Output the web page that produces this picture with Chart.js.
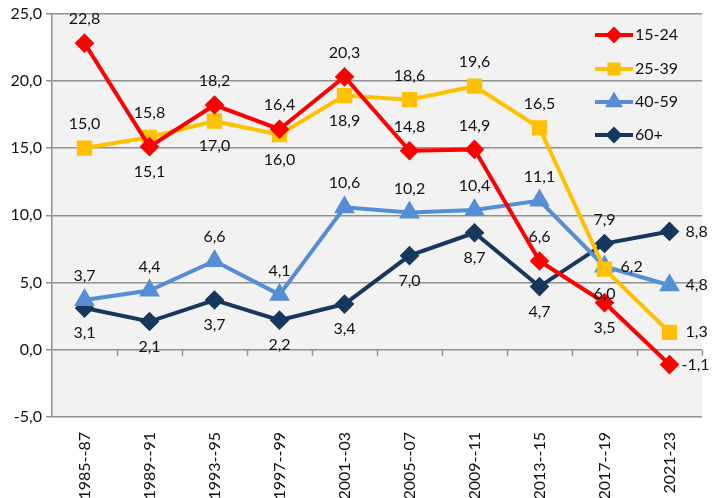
<!DOCTYPE html>
<html>
<head>
<meta charset="utf-8">
<script src="https://cdn.jsdelivr.net/npm/chart.js@4"></script>
<style>
  html, body { margin: 0; padding: 0; background: #fff; }
  #wrap { width: 715px; height: 498px; }
</style>
</head>
<body>
<div id="wrap"><canvas id="lineChart"></canvas></div>
<script>
const categories = ['1985--87', '1989--91', '1993--95', '1997--99', '2001--03', '2005--07', '2009--11', '2013--15', '2017--19', '2021-23'];
const seriesNames = ['15-24', '25-39', '40-59', '60+'];

const age15to24 = [22.8, 15.1, 18.2, 16.4, 20.3, 14.8, 14.9, 6.6, 3.5, -1.1];
const age25to39 = [15.0, 15.8, 17.0, 16.0, 18.9, 18.6, 19.6, 16.5, 6.0, 1.3];
const age40to59 = [3.7, 4.4, 6.6, 4.1, 10.6, 10.2, 10.4, 11.1, 6.2, 4.8];
const age60plus = [3.1, 2.1, 3.7, 2.2, 3.4, 7.0, 8.7, 4.7, 7.9, 8.8];

const yTicks = [-5, 0, 5, 10, 15, 20, 25];

// where each value label sits: a = above, b = below, r = right
const pos15to24 = ['a', 'b', 'a', 'a', 'a', 'a', 'a', 'a', 'b', 'r'];
const pos25to39 = ['a', 'a', 'b', 'b', 'b', 'a', 'a', 'a', 'b', 'r'];
const pos40to59 = ['a', 'a', 'a', 'a', 'a', 'a', 'a', 'a', 'r', 'r'];
const pos60plus = ['b', 'b', 'b', 'b', 'b', 'b', 'b', 'b', 'a', 'r'];

const fontFamily = 'Lato, "Open Sans", sans-serif';
const fmt = v => v.toFixed(1).replace('.', ',');

const plotBackground = {
  id: 'plotBackground',
  beforeDraw(chart) {
    const { ctx, chartArea: a } = chart;
    ctx.save();
    ctx.fillStyle = '#f2f2f2';
    ctx.fillRect(a.left, a.top, a.right - a.left, a.bottom - a.top);
    ctx.restore();
  }
};

const zeroAxisTicks = {
  id: 'zeroAxisTicks',
  beforeDatasetsDraw(chart) {
    const { ctx, scales: { x, y } } = chart;
    const y0 = y.getPixelForValue(0);
    ctx.save();
    ctx.strokeStyle = '#909090';
    ctx.lineWidth = 1.5;
    ctx.beginPath();
    for (let i = 1; i <= categories.length; i++) {
      const px = Math.round((x.getPixelForValue(i) + x.getPixelForValue(i - 1)) / 2) + 0.5;
      ctx.moveTo(px, y0);
      ctx.lineTo(px, y0 + 6);
    }
    ctx.stroke();
    ctx.restore();
  }
};

const valueLabels = {
  id: 'valueLabels',
  afterDatasetsDraw(chart) {
    const { ctx } = chart;
    const positions = [pos15to24, pos25to39, pos40to59, pos60plus];
    ctx.save();
    ctx.font = '16px ' + fontFamily;
    ctx.fillStyle = '#111';
    ctx.textBaseline = 'middle';
    chart.data.datasets.forEach((ds, di) => {
      const meta = chart.getDatasetMeta(di);
      meta.data.forEach((pt, i) => {
        const p = positions[di][i];
        const text = fmt(ds.data[i]);
        if (p === 'r') {
          ctx.textAlign = 'left';
          ctx.fillText(text, pt.x + (ds.data[i] < 0 ? 12 : 16), pt.y);
        } else {
          ctx.textAlign = 'center';
          ctx.fillText(text, pt.x, pt.y + (p === 'a' ? -24 : 25));
        }
      });
    });
    ctx.restore();
  }
};

const insideLegend = {
  id: 'insideLegend',
  afterDraw(chart) {
    const { ctx } = chart;
    const x0 = 595, x1 = 633, rowY = [35, 69, 102, 135];
    ctx.save();
    chart.data.datasets.forEach((ds, i) => {
      const yy = rowY[i];
      ctx.strokeStyle = ds.borderColor;
      ctx.lineWidth = 4;
      ctx.beginPath();
      ctx.moveTo(x0, yy);
      ctx.lineTo(x1, yy);
      ctx.stroke();
      ctx.fillStyle = ds.pointBackgroundColor;
      ctx.strokeStyle = ds.pointBackgroundColor;
      Chart.helpers.drawPoint(ctx, {
        pointStyle: ds.pointStyle,
        radius: ds.pointRadius * 0.8,
        borderWidth: 1
      }, (x0 + x1) / 2, yy);
      ctx.font = '16px ' + fontFamily;
      ctx.fillStyle = '#111';
      ctx.textAlign = 'left';
      ctx.textBaseline = 'middle';
      ctx.fillText(seriesNames[i], x1 + 2, yy);
    });
    ctx.restore();
  }
};

function series(label, data, color, style, radius) {
  return {
    label: label,
    data: data,
    borderColor: color,
    backgroundColor: color,
    pointBackgroundColor: color,
    pointBorderColor: color,
    borderWidth: 4,
    pointStyle: style,
    pointRadius: radius,
    pointHoverRadius: radius,
    tension: 0
  };
}

document.addEventListener('DOMContentLoaded', () => {
  const el = document.getElementById('lineChart');
  new Chart(el, {
    type: 'line',
    data: {
      labels: categories,
      datasets: [
        series(seriesNames[0], age15to24, '#ff0000', 'rectRot', 7),
        series(seriesNames[1], age25to39, '#ffc000', 'rect', 8),
        series(seriesNames[2], age40to59, '#558ed5', 'triangle', 8),
        series(seriesNames[3], age60plus, '#17375e', 'rectRot', 7)
      ]
    },
    options: {
      responsive: true,
      maintainAspectRatio: false,
      animation: false,
      devicePixelRatio: 1,
      layout: { padding: { top: 11, right: 13, left: 0, bottom: 0 } },
      plugins: {
        legend: { display: false },
        tooltip: { enabled: false }
      },
      scales: {
        x: {
          offset: true,
          grid: { display: false, drawTicks: false },
          border: { display: false },
          ticks: {
            color: '#111',
            font: { family: fontFamily, size: 16 },
            minRotation: 90,
            maxRotation: 90,
            padding: 15,
            autoSkip: false
          },
          afterFit(scale) { scale.height = 81; }
        },
        y: {
          min: -5,
          max: 25,
          afterBuildTicks(scale) { scale.ticks = yTicks.map(v => ({ value: v })); },
          grid: { color: '#909090', lineWidth: 1.5, tickLength: 6 },
          border: { color: '#909090', width: 1.5 },
          ticks: {
            color: '#111',
            font: { family: fontFamily, size: 16 },
            padding: 4,
            callback: v => fmt(v)
          },
          afterFit(scale) { scale.width = 52; }
        }
      }
    },
    plugins: [plotBackground, zeroAxisTicks, valueLabels, insideLegend]
  });
});
</script>
</body>
</html>
